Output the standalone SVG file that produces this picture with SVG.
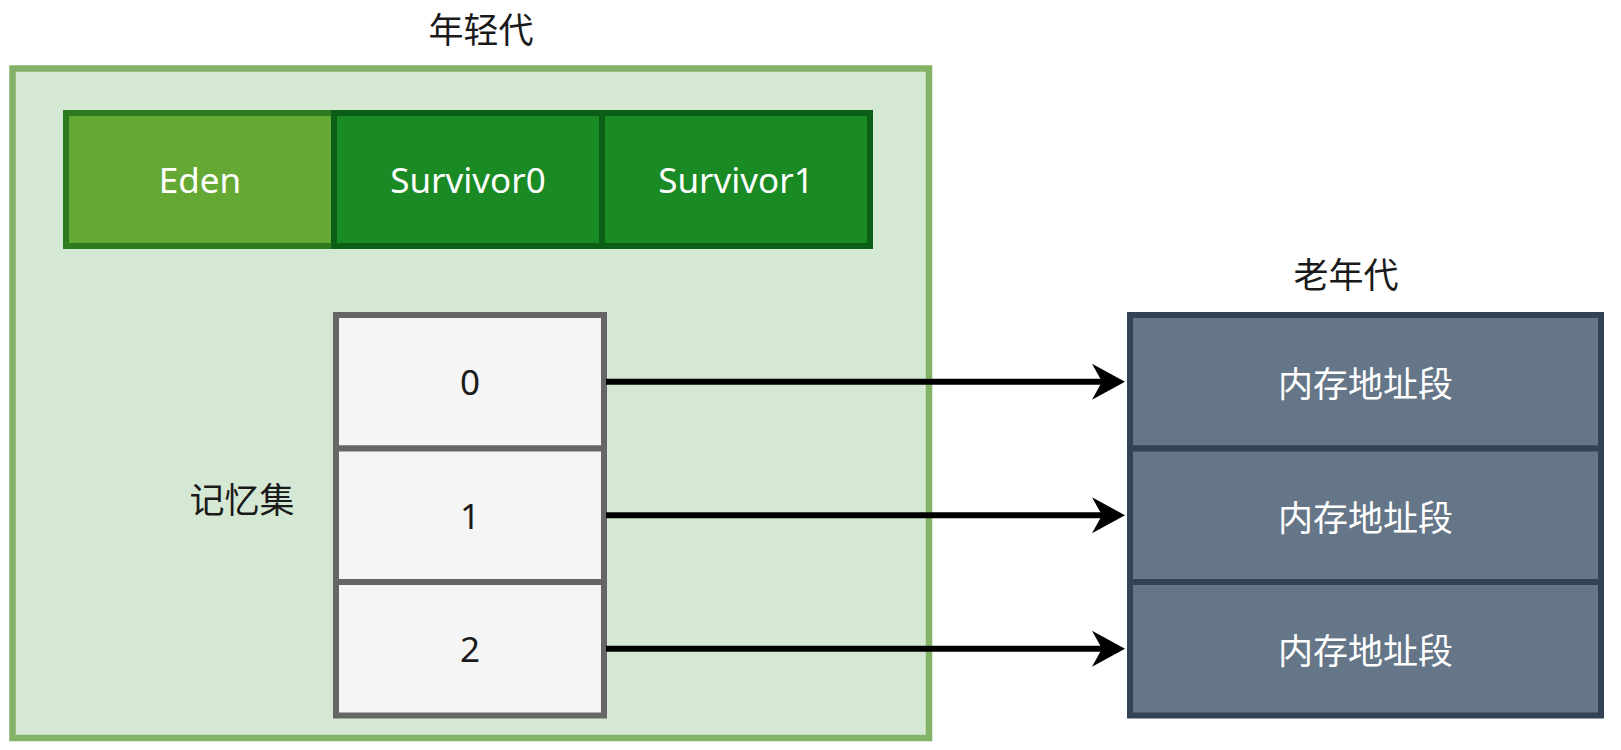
<svg xmlns="http://www.w3.org/2000/svg" width="1621" height="750" viewBox="0 0 1621 750">
<style>
.cjk{font-family:"Noto Sans CJK SC","Noto Sans",sans-serif;font-size:35px;text-anchor:middle;dominant-baseline:central}
.lat{font-family:"Comic Sans MS","Noto Sans",sans-serif;font-size:35px;text-anchor:middle;dominant-baseline:central}
.eden{fill:#65a934;stroke:#2d7a1f;stroke-width:6}
.surv{fill:#1a8a24;stroke:#0b5e15;stroke-width:6}
.mem{fill:#f5f5f5;stroke:#666666;stroke-width:6}
.old{fill:#647687;stroke:#314354;stroke-width:6}
.w{fill:#ffffff}
.k{fill:#1a1a1a}
.conn{stroke:#000;stroke-width:6;fill:none}
</style>
<defs>
<marker id="arr" markerUnits="userSpaceOnUse" viewBox="-34 -19 36 38" refX="-20" refY="0" markerWidth="36" markerHeight="38" orient="auto">
<path d="M0,0 L-33,-18 L-23,0 L-33,18 Z" fill="#000"/>
</marker>
</defs>
<rect width="1621" height="750" fill="#ffffff"/>
<g id="young">
<rect x="12.5" y="68.5" width="916.5" height="669.5" fill="#d5e8d4" stroke="#82b366" stroke-width="6.5"/>
<text class="cjk k" x="481" y="27">年轻代</text>
</g>
<g id="eden"><rect class="eden" x="66" y="113" width="268" height="133"/><text class="lat w" x="200" y="179.5">Eden</text></g>
<g id="survivor0"><rect class="surv" x="334" y="113" width="268" height="133"/><text class="lat w" x="468" y="179.5">Survivor0</text></g>
<g id="survivor1"><rect class="surv" x="602" y="113" width="268" height="133"/><text class="lat w" x="736" y="179.5">Survivor1</text></g>
<g id="remset-label"><text class="cjk k" x="242" y="497">记忆集</text></g>
<g id="mem0"><rect class="mem" x="336" y="315" width="268" height="133.5"/><text class="lat k" x="470" y="381.75">0</text></g>
<g id="mem1"><rect class="mem" x="336" y="448.5" width="268" height="133.5"/><text class="lat k" x="470" y="515.25">1</text></g>
<g id="mem2"><rect class="mem" x="336" y="582" width="268" height="133.5"/><text class="lat k" x="470" y="648.75">2</text></g>
<g id="old-label"><text class="cjk k" x="1346" y="272">老年代</text></g>
<g id="old0"><rect class="old" x="1130" y="315" width="471" height="133.5"/><text class="cjk w" x="1365.5" y="381.75">内存地址段</text></g>
<g id="old1"><rect class="old" x="1130" y="448.5" width="471" height="133.5"/><text class="cjk w" x="1365.5" y="515.25">内存地址段</text></g>
<g id="old2"><rect class="old" x="1130" y="582" width="471" height="133.5"/><text class="cjk w" x="1365.5" y="648.75">内存地址段</text></g>
<g id="connectors">
<line class="conn" x1="606" y1="381.75" x2="1105" y2="381.75" marker-end="url(#arr)"/>
<line class="conn" x1="606" y1="515.25" x2="1105" y2="515.25" marker-end="url(#arr)"/>
<line class="conn" x1="606" y1="648.75" x2="1105" y2="648.75" marker-end="url(#arr)"/>
</g>
</svg>
